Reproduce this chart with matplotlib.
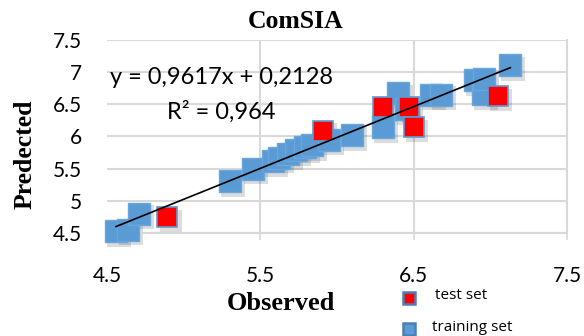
import matplotlib.pyplot as plt
import numpy as np

# training set (observed / predicted)
train_obs = [4.56, 4.64, 4.71, 5.30, 5.45, 5.585, 5.62, 5.68, 5.73, 5.79, 5.84,
             5.95, 6.095, 6.30, 6.40, 6.45, 6.61, 6.68, 6.90, 6.95, 6.96, 7.13]
train_pred = [4.53, 4.55, 4.80, 5.31, 5.50, 5.62, 5.67, 5.73, 5.79, 5.84, 5.86,
              5.95, 6.02, 6.15, 6.68, 6.42, 6.65, 6.65, 6.87, 6.66, 6.90, 7.11]

# test set
test_obs = [4.895, 5.91, 6.30, 6.47, 6.50, 7.05]
test_pred = [4.74, 6.09, 6.45, 6.46, 6.15, 6.63]

slope = 0.9617
intercept = 0.2128
eq_text = "y = 0,9617x + 0,2128"
r2_text = "R² = 0,964"

x_ticks = [4.5, 5.5, 6.5, 7.5]
y_ticks = [4.5, 5, 5.5, 6, 6.5, 7, 7.5]

BLUE = "#5B9BD5"
RED = "#FF0000"
GRID = "#D9D9D9"
TICK_FONT = "Lato"
SERIF = "Liberation Serif"

fig = plt.figure(figsize=(5.84, 3.36), dpi=100)
ax = fig.add_axes([0.183, 0.307, 0.788, 0.574])

ax.set_xlim(4.5, 7.5)
ax.set_ylim(4.5, 7.5)

# shadows
ax.plot(np.array(train_obs) + 0.02, np.array(train_pred) - 0.06, "s",
        ms=17, color="#505050", alpha=0.2, mew=0, clip_on=False, zorder=2)
ax.plot(np.array(test_obs) + 0.02, np.array(test_pred) - 0.06, "s",
        ms=16, color="#505050", alpha=0.2, mew=0, clip_on=False, zorder=2)

ax.plot(train_obs, train_pred, "s", ms=16, color=BLUE, mec="#6AA6DB",
        mew=1, clip_on=False, zorder=3)
ax.plot(test_obs, test_pred, "s", ms=14.5, color=RED, mec=BLUE,
        mew=1.2, clip_on=False, zorder=4)

all_obs = train_obs + test_obs
line_x = np.array([min(all_obs), max(all_obs)])
ax.plot(line_x, slope * line_x + intercept, color="black", lw=1.2, zorder=5)

ax.text(5.245, 6.91, eq_text, fontsize=17, family=TICK_FONT,
        ha="center", va="center", zorder=6)
ax.text(5.245, 6.38, r2_text, fontsize=17, family=TICK_FONT,
        ha="center", va="center", zorder=6)

ax.set_xticks(x_ticks)
ax.set_xticklabels([str(v) for v in x_ticks])
ax.set_yticks(y_ticks)
ax.set_yticklabels([str(v) for v in y_ticks])
for lab in ax.get_xticklabels() + ax.get_yticklabels():
    lab.set_fontfamily(TICK_FONT)
    lab.set_fontsize(15)

ax.tick_params(axis="x", length=5, width=1.2, color=GRID, pad=19)
ax.tick_params(axis="y", length=0, pad=18)

ax.grid(True, color=GRID, lw=1.5, zorder=0)
ax.set_axisbelow(True)
ax.get_xgridlines()[0].set_visible(False)

for side in ["left", "top"]:
    ax.spines[side].set_visible(False)
for side in ["bottom", "right"]:
    ax.spines[side].set_color(GRID)
    ax.spines[side].set_linewidth(1.5)

fig.text(0.507, 0.935, "ComSIA", family=SERIF, fontweight="bold",
         fontsize=18.5, ha="center", va="center")
fig.text(0.481, 0.098, "Observed", family=SERIF, fontweight="bold",
         fontsize=19, ha="center", va="center")
fig.text(0.043, 0.54, "Predected", family=SERIF, fontweight="bold",
         fontsize=18.5, ha="center", va="center", rotation=90)

# legend drawn outside the axes
fig.lines.append(plt.Line2D([0.70], [0.113], marker="s", ms=9, color=RED,
                            mec="#4A7FB5", mew=1.8, transform=fig.transFigure))
fig.lines.append(plt.Line2D([0.70], [0.021], marker="s", ms=9, color=BLUE,
                            mec="#4A7FB5", mew=1.8, transform=fig.transFigure))
fig.text(0.745, 0.122, "test set", family="Open Sans", fontsize=11,
         ha="left", va="center")
fig.text(0.740, 0.024, "training set", family="Open Sans", fontsize=11,
         ha="left", va="center")

fig.savefig("out.png", dpi=100)
